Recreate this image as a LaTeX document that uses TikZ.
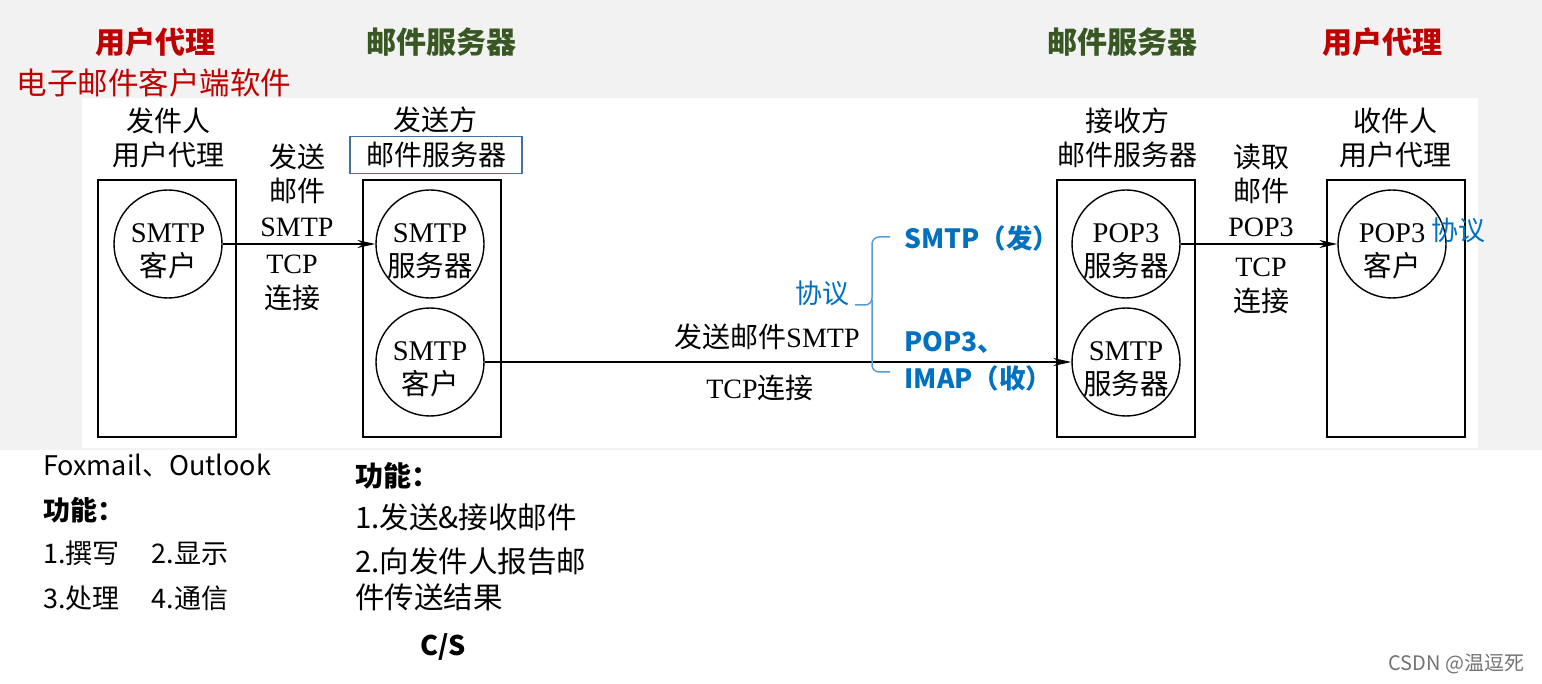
\documentclass[tikz,border=0pt]{standalone}
\usepackage{fontspec}
\setmainfont{Liberation Serif}
\newfontfamily\zh{Noto Sans CJK SC}
\usepackage{tikz}
\usetikzlibrary{positioning}
\usetikzlibrary{arrows.meta}
\definecolor{bggray}{RGB}{242,242,242}
\definecolor{headred}{RGB}{192,0,0}
\definecolor{headgreen}{RGB}{56,87,35}
\definecolor{protoblue}{RGB}{0,112,192}
\definecolor{bracecol}{RGB}{91,155,213}
\definecolor{framecol}{RGB}{65,113,156}
\newcommand{\cn}[1]{{\zh #1}}
\tikzstyle{agentbox}=[draw, line width=2.8pt, minimum width=138pt, minimum height=257pt, inner sep=0pt]
\tikzset{proc/.style={circle, draw, line width=1.4pt, minimum size=108pt, inner sep=0pt,
    label={[align=center, inner sep=0pt, yshift=-7pt, font=\fontsize{28.5}{34}\selectfont]center:#1}}}
\tikzstyle{lbl}=[align=center, font=\fontsize{28}{34.5}\selectfont]
\tikzstyle{head}=[font=\zh\bfseries\fontsize{30}{34}\selectfont]
\tikzstyle{proto}=[text=protoblue, font=\zh\fontsize{27}{30}\selectfont]
\tikzstyle{note}=[anchor=west, inner sep=0pt, font=\zh\fontsize{27}{30}\selectfont]
\tikzstyle{bignote}=[anchor=west, inner sep=0pt, font=\zh\fontsize{29.5}{30}\selectfont]
\tikzstyle{link}=[draw, line width=1.4pt, -{Stealth[length=18pt,width=8pt]}]

\begin{document}
\begin{tikzpicture}[x=1pt, y=-1pt]
    \useasboundingbox (0,0) rectangle (1542,684);
    % slide background
    \fill[bggray] (0,0) rectangle (1542,450);
    \fill[white] (82,98) rectangle (1478,448);

    % headings
    \node[head, text=headred] (hua1) at (155,42) {用户代理};
    \node[text=headred, font=\zh\fontsize{30.5}{34}\selectfont] (soft) at (154,83) {电子邮件客户端软件};
    \node[head, text=headgreen] (hms1) at (441,42) {邮件服务器};
    \node[head, text=headgreen] (hms2) at (1122,42) {邮件服务器};
    \node[head, text=headred] (hua2) at (1382,42) {用户代理};

    % the four boxes
    \node[agentbox] (ua1) at (167,308.5) {};
    \node[agentbox] (ms1) at (432,308.5) {};
    \node[agentbox] (ms2) at (1126,308.5) {};
    \node[agentbox] (ua2) at (1396,308.5) {};

    \node[lbl] (ua1t) at (168,138) {\cn{发件人}\\\cn{用户代理}};
    \node[lbl] (ms1t) at (435,120) {\cn{发送方}};
    \node[lbl, draw=framecol, line width=1.2pt, minimum width=172pt, minimum height=37pt, inner sep=0pt] (ms1b) at (436,155) {\cn{邮件服务器}};
    \node[lbl] (ms2t) at (1127,138) {\cn{接收方}\\\cn{邮件服务器}};
    \node[lbl] (ua2t) at (1395,138) {\cn{收件人}\\\cn{用户代理}};

    % processes
    \node[proc={SMTP\\\cn{客户}}] (c1) at (168,244) {};
    \node[proc={SMTP\\\cn{服务器}}] (c2) at (430,244) {};
    \node[proc={SMTP\\\cn{客户}}] (c3) at (430,362) {};
    \node[proc={POP3\\\cn{服务器}}] (c4) at (1126,244) {};
    \node[proc={SMTP\\\cn{服务器}}] (c5) at (1126,362) {};
    \node[proc={POP3\\\cn{客户}}] (c6) at (1392,244) {};

    % connections
    \path[link] (c1) -- (c2);
    \path[link] (c3) -- (c5);
    \path[link] (c4) -- (c6);

    \node[lbl] (l1a) at (297,190) {\cn{发送}\\\cn{邮件}\\SMTP};
    \node[lbl] (l1b) at (292,283) {TCP\\\cn{连接}};
    \node[lbl] (l2a) at (767,337) {\cn{发送邮件}SMTP};
    \node[lbl] (l2b) at (760,388) {TCP\cn{连接}};
    \node[lbl] (l3a) at (1261,190) {\cn{读取}\\\cn{邮件}\\POP3};
    \node[lbl] (l3b) at (1261,286) {TCP\\\cn{连接}};

    % protocols
    \draw[bracecol, line width=1.5pt, rounded corners=7pt] (890,237) -- (872,237) -- (872,305) -- (855,305);
    \draw[bracecol, line width=1.5pt, rounded corners=7pt] (872,300) -- (872,372) -- (890,372);
    \node[proto] (p0) at (822,293) {协议};
    \node[proto, anchor=west, font=\zh\bfseries\fontsize{26.5}{30}\selectfont] (p1) at (901,238) {SMTP（发）};
    \node[proto, anchor=west, font=\zh\bfseries\fontsize{26.5}{30}\selectfont] (p2) at (901,342) {POP3、};
    \node[proto, anchor=west, font=\zh\bfseries\fontsize{26.5}{30}\selectfont] (p3) at (901,378) {IMAP（收）};
    \node[proto] (p4) at (1458,230) {协议};

    % notes below
    \node[note] (n1) at (43,466) {Foxmail、Outlook};
    \node[note, font=\zh\bfseries\fontsize{27}{30}\selectfont] (n2) at (43,510) {功能：};
    \node[note] (n3) at (43,553) {1.撰写\hspace{32pt}2.显示};
    \node[note] (n4) at (43,598) {3.处理\hspace{32pt}4.通信};
    \node[bignote, font=\zh\bfseries\fontsize{28}{30}\selectfont] (m1) at (355,476) {功能：};
    \node[bignote] (m2) at (355,517) {1.发送\&接收邮件};
    \node[bignote] (m3) at (355,561) {2.向发件人报告邮};
    \node[bignote] (m4) at (355,597) {件传送结果};
    \node[font=\zh\bfseries\fontsize{27}{30}\selectfont] (cs) at (443,647) {C/S};

    \node[anchor=east, text=black!55, font=\zh\fontsize{20}{24}\selectfont] (wm) at (1528,664) {CSDN @温逗死};
\end{tikzpicture}
\end{document}
